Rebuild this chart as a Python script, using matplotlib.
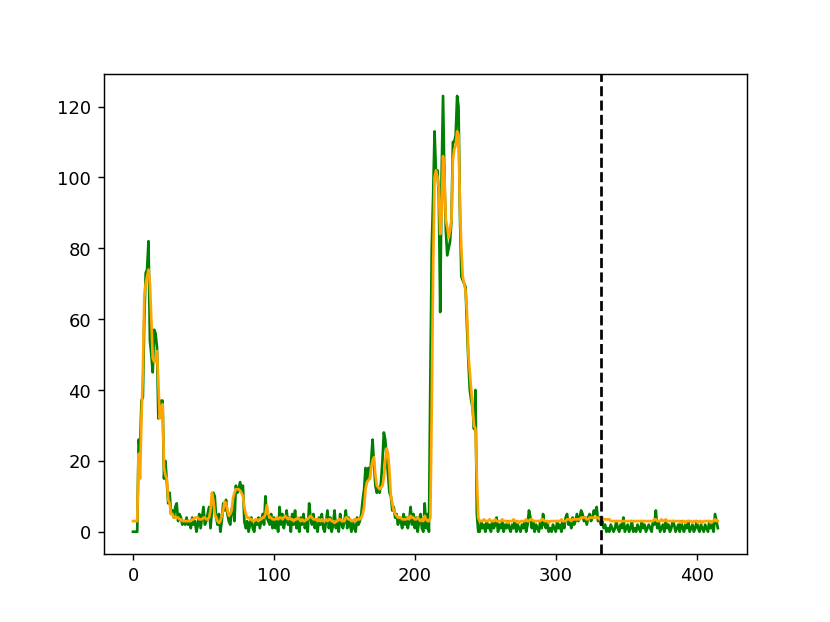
import matplotlib
matplotlib.use('Agg')
import matplotlib.pyplot as plt
import numpy as np

# actual series (green)
actual = [
    0, 0, 0, 0, 26, 23, 37, 38, 60, 73,
    74, 82, 54, 50, 45, 57, 56, 52, 32, 35,
    37, 37, 15, 20, 14, 8, 11, 5, 6, 4,
    7, 8, 3, 5, 4, 2, 3, 2, 4, 2,
    3, 1, 4, 2, 3, 0, 2, 5, 1, 4,
    7, 2, 3, 5, 7, 1, 6, 11, 10, 4,
    2, 5, 0, 3, 8, 6, 9, 5, 3, 2,
    6, 8, 3, 13, 11, 12, 14, 12, 13, 3,
    1, 3, 0, 2, 4, 1, 0, 3, 2, 4,
    1, 3, 5, 2, 10, 4, 3, 2, 5, 1,
    4, 1, 3, 0, 7, 2, 5, 1, 3, 6,
    2, 4, 0, 5, 2, 6, 1, 3, 0, 4,
    2, 5, 1, 3, 0, 8, 4, 2, 5, 1,
    3, 0, 4, 2, 5, 1, 0, 3, 6, 1,
    4, 0, 2, 6, 1, 3, 0, 5, 2, 1,
    3, 6, 1, 4, 2, 0, 3, 1, 0, 4,
    2, 3, 5, 9, 12, 18, 14, 18, 15, 20,
    26, 19, 13, 11, 12, 11, 14, 20, 28, 26,
    21, 16, 11, 10, 6, 7, 4, 5, 2, 4,
    3, 1, 5, 2, 4, 1, 3, 7, 2, 5,
    1, 4, 0, 3, 5, 1, 0, 8, 1, 5,
    0, 43, 80, 95, 113, 101, 102, 95, 62, 100,
    123, 99, 85, 78, 80, 82, 88, 110, 110, 112,
    123, 120, 90, 72, 71, 70, 69, 58, 48, 40,
    37, 35, 29, 40, 5, 0, 0, 3, 1, 2,
    0, 3, 1, 2, 0, 3, 1, 2, 4, 0,
    2, 1, 3, 0, 2, 1, 3, 1, 0, 2,
    1, 3, 0, 2, 1, 0, 2, 1, 3, 0,
    2, 6, 4, 1, 3, 0, 2, 1, 0, 3,
    1, 5, 2, 1, 3, 0, 1, 0, 2, 1,
    0, 3, 1, 2, 0, 3, 1, 4, 5, 2,
    3, 1, 4, 2, 3, 5, 3, 4, 6, 5,
    3, 4, 2, 4, 5, 3, 4, 6, 5, 7,
    3, 4, 2, 3, 1, 2, 0, 1, 0, 2,
    1, 0, 1, 3, 1, 0, 2, 1, 4, 0,
    1, 2, 0, 1, 3, 0, 1, 0, 2, 1,
    0, 3, 1, 2, 0, 1, 2, 1, 0, 3,
    2, 6, 1, 3, 0, 1, 2, 0, 3, 1,
    2, 0, 1, 3, 2, 0, 1, 2, 0, 3,
    1, 0, 2, 1, 3, 0, 1, 2, 0, 1,
    3, 1, 0, 2, 1, 0, 2, 1, 0, 3,
    1, 2, 0, 5, 3, 1,
]

# predicted / smoothed series (orange)
predicted = [
    3, 3, 3, 3, 22, 15, 32, 45, 66, 70,
    72, 74, 70, 60, 49, 48, 48, 51, 42, 32,
    35, 36, 18, 16, 15, 9, 8, 5, 5, 4,
    4, 4, 4, 3.5, 3.5, 3, 3, 3, 3, 3,
    3, 3, 3.5, 3.5, 4, 4, 4, 3.5, 3.5, 3.5,
    4, 4, 3.5, 3.5, 4, 6, 11, 9, 5, 4,
    3, 2.5, 3, 4.5, 6, 8.5, 8, 6, 4.5, 5,
    6, 9.5, 11, 12, 12, 12, 11.5, 11, 10, 7,
    5, 4, 4, 3.5, 3.5, 3, 3, 3.5, 3.5, 3,
    3.5, 3.5, 4, 4, 5, 7.5, 5, 4, 4, 3.5,
    3.5, 3.5, 4, 3.5, 4, 4, 3.5, 4, 4.5, 4,
    3.5, 4, 3.5, 3.5, 3, 3.5, 3.5, 4, 3.5, 3,
    3.5, 3, 3, 3.5, 3.5, 4, 4.5, 4, 3.5, 3.5,
    3.5, 3, 3.5, 3, 3.5, 3, 3, 3.5, 3, 3.5,
    3.5, 3, 3, 2.5, 3, 3, 3.5, 3.5, 3, 3,
    3, 4, 4, 3.5, 3.5, 3, 3, 3.5, 3, 3.5,
    3.5, 3.5, 4, 5, 7, 12, 14, 14.5, 15, 18,
    20, 21, 16, 13, 12.5, 12, 12.5, 13, 15, 20,
    23.5, 22, 17, 10, 8, 6, 5, 4.5, 4, 4,
    4, 3.5, 3.5, 3.5, 3.5, 4, 3.5, 4.5, 4, 4,
    3.5, 3.5, 4, 3.5, 3, 3.5, 3, 4.5, 3.5, 3,
    3, 4, 35, 75, 100, 102, 100, 97, 84, 90,
    106, 100, 88, 86, 83, 85, 88, 105, 108, 109,
    113, 112, 92, 80, 72, 70, 68, 62, 50, 45,
    40, 35, 30, 29, 15, 4, 3, 3, 3, 3.5,
    3, 3, 3, 3.5, 3, 3, 3, 3.5, 3, 3,
    3, 3, 3.5, 3, 3, 3, 2.5, 3, 3, 3,
    3.5, 3, 3, 3, 2.5, 3, 3, 3, 3, 3.5,
    3, 3, 3.5, 3.5, 3, 3, 3, 3, 3, 3,
    3.5, 3.5, 3, 3, 3, 2.5, 3, 3, 3, 3,
    3, 3, 3, 3, 3.5, 3, 3, 3, 3.5, 3.5,
    3.5, 3, 3.5, 3.5, 3.5, 3.5, 3.5, 3.5, 4, 4,
    4, 4, 3.5, 3.5, 4, 4, 4, 4, 4, 4,
    4, 3.5, 3.5, 4, 3.5, 3.5, 3.5, 3.5, 3.5, 3,
    3, 3, 3, 3, 3, 3, 3, 3, 3, 3,
    3, 3, 3, 3, 3, 3, 3, 3, 3, 3,
    3, 3, 3, 3, 3, 3, 3, 3, 3, 3,
    3.5, 3.5, 3, 3, 3, 3.5, 3, 3, 3.5, 3,
    3, 3, 3, 3, 3, 3, 3, 3, 3, 2.5,
    3, 3, 2.5, 3, 3, 3, 3, 2.5, 3, 3,
    3, 2.5, 3, 3, 2.5, 3, 3, 3, 3, 3,
    2.5, 3, 3, 3.5, 3, 3,
]

split_at = 332  # train / test boundary

fig = plt.figure(figsize=(6.4, 4.8), dpi=129.7)
plt.plot(np.arange(len(actual)), actual, color='green')
plt.plot(np.arange(len(predicted)), predicted, color='orange')
plt.axvline(x=split_at, color='black', linestyle='--')
plt.savefig('out.png')
